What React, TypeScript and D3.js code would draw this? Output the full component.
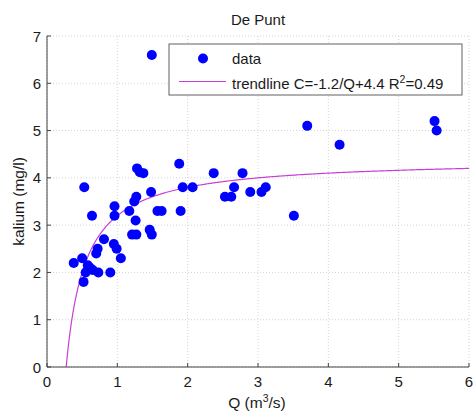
import React from "react";
import * as d3 from "d3";

const title = "De Punt";
const qValues = [0.38, 0.50, 0.52, 0.53, 0.55, 0.58, 0.61, 0.65, 0.64, 0.70, 0.72, 0.73, 0.81, 0.90, 0.95, 0.99, 1.05, 0.96, 0.96, 1.17, 1.21, 1.27, 1.26, 1.24, 1.27, 1.28, 1.32, 1.37, 1.46, 1.49, 1.48, 1.49, 1.57, 1.63, 1.88, 1.90, 1.93, 2.07, 2.37, 2.53, 2.62, 2.66, 2.78, 2.89, 3.05, 3.11, 3.51, 3.70, 4.16, 5.51, 5.54];
const cValues = [2.2, 2.3, 1.8, 3.8, 2.0, 2.15, 2.1, 2.05, 3.2, 2.4, 2.5, 2.0, 2.7, 2.0, 2.6, 2.5, 2.3, 3.4, 3.2, 3.3, 2.8, 2.8, 3.1, 3.5, 3.6, 4.2, 4.12, 4.1, 2.9, 2.8, 3.7, 6.6, 3.3, 3.3, 4.3, 3.3, 3.8, 3.8, 4.1, 3.6, 3.6, 3.8, 4.1, 3.7, 3.7, 3.8, 3.2, 5.1, 4.7, 5.2, 5.0];
const trendA = -1.2;
const trendB = 4.4;
const xTicks = [0, 1, 2, 3, 4, 5, 6];
const yTicks = [0, 1, 2, 3, 4, 5, 6, 7];
const legendLabels = ["data", "trendline C=-1.2/Q+4.4 R", "=0.49"];

const FONT = "'Liberation Sans', Arial, sans-serif";

export default function App() {
  const W = 473, H = 412;
  const left = 47, right = 469, top = 36, bottom = 367;
  const x = d3.scaleLinear().domain([0, 6]).range([left, right]);
  const y = d3.scaleLinear().domain([0, 7]).range([bottom, top]);

  const qStart = -trendA / trendB;
  const trendPts = d3.range(0, 401).map((i) => {
    const q = qStart + (6 - qStart) * Math.pow(i / 400, 1.6);
    return [q, trendA / q + trendB] as [number, number];
  });
  const line = d3.line<[number, number]>().x((d) => x(d[0])).y((d) => y(Math.max(0, d[1])));

  const data = qValues.map((q, i) => ({ q, c: cValues[i] }));
  const trendColor = "#c83fd6";
  const axisColor = "#404040";
  const gridColor = "#d4d4d4";
  const textColor = "#1a1a1a";

  return (
    <svg width={W} height={H} style={{ position: "absolute", left: 0, top: 0, background: "#fff" }} fontFamily={FONT}>
      <rect x={0} y={0} width={W} height={H} fill="#fff" />
      {xTicks.map((t) => (
        <line key={"gx" + t} x1={x(t)} x2={x(t)} y1={top} y2={bottom} stroke={gridColor} strokeWidth={1} strokeDasharray="1,2" />
      ))}
      {yTicks.map((t) => (
        <line key={"gy" + t} x1={left} x2={right} y1={y(t)} y2={y(t)} stroke={gridColor} strokeWidth={1} strokeDasharray="1,2" />
      ))}
      <path d={line(trendPts) || ""} fill="none" stroke={trendColor} strokeWidth={1.2} />
      {data.map((d, i) => (
        <circle key={i} cx={x(d.q)} cy={y(d.c)} r={5} fill="#0000ff" />
      ))}
      <line x1={left} x2={right} y1={bottom} y2={bottom} stroke={axisColor} strokeWidth={1} />
      <line x1={left} x2={left} y1={top} y2={bottom} stroke={axisColor} strokeWidth={1} />
      {xTicks.map((t) => (
        <g key={"tx" + t}>
          <line x1={x(t)} x2={x(t)} y1={bottom} y2={bottom - 4} stroke={axisColor} />
          <text x={x(t)} y={387} textAnchor="middle" fontSize={15} fill={textColor}>{t}</text>
        </g>
      ))}
      {yTicks.map((t) => (
        <g key={"ty" + t}>
          <line x1={left} x2={left + 4} y1={y(t)} y2={y(t)} stroke={axisColor} />
          <text x={41} y={y(t) + 5.5} textAnchor="end" fontSize={15} fill={textColor}>{t}</text>
        </g>
      ))}
      <text x={258} y={25} textAnchor="middle" fontSize={15} fill={textColor}>{title}</text>
      <text transform={`translate(24,${(top + bottom) / 2}) rotate(-90)`} textAnchor="middle" fontSize={15.5} fill={textColor}>kalium (mg/l)</text>
      <text x={257} y={407.5} textAnchor="middle" fontSize={15.5} fill={textColor}>
        Q (m<tspan dy={-6} fontSize={10.5}>3</tspan><tspan dy={6}>/s)</tspan>
      </text>
      <rect x={169} y={44} width={293} height={51} fill="#fff" stroke="#606060" strokeWidth={1} />
      <circle cx={203} cy={58.5} r={5} fill="#0000ff" />
      <text x={232} y={63.5} fontSize={15} fill={textColor}>{legendLabels[0]}</text>
      <line x1={179} x2={226} y1={81.5} y2={81.5} stroke={trendColor} strokeWidth={1.2} />
      <text x={232} y={89} fontSize={15} fill={textColor}>
        {legendLabels[1]}<tspan dy={-6} fontSize={10.5}>2</tspan><tspan dy={6}>{legendLabels[2]}</tspan>
      </text>
    </svg>
  );
}
